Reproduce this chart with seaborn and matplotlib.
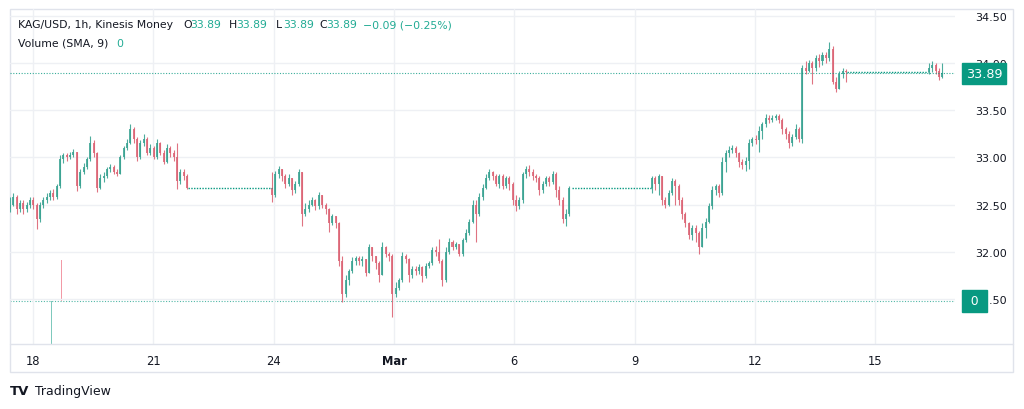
import numpy as np
import pandas as pd
import matplotlib.pyplot as plt
import seaborn as sns

# time unit: days after Feb 18 (00:00), candles are 2h apart inside each session
tick_days = [0, 3, 6, 9, 12, 15, 18, 21]
tick_labels = ["18", "21", "24", "Mar", "6", "9", "12", "15"]

# session A
a_start = -0.574
a_open = 32.45
a_close = [32.50, 32.58, 32.45, 32.52, 32.45, 32.50, 32.55, 32.50, 32.35, 32.50,
           32.55, 32.58, 32.62, 32.58, 32.70, 32.98, 33.02, 33.00, 33.03, 33.06,
           32.70, 32.85, 32.90, 32.98, 33.15, 33.05, 32.68, 32.78, 32.80, 32.88,
           32.90, 32.85, 32.82, 33.00, 33.10, 33.15, 33.30, 33.20, 33.00, 33.15,
           33.20, 33.05, 33.10, 33.00, 33.15, 33.05, 32.95, 33.10, 33.05, 33.00,
           32.75, 32.85, 32.80, 32.68]
a_high = [32.58, 32.62, 32.60, 32.55, 32.55, 32.53, 32.58, 32.58, 32.52, 32.53,
          32.58, 32.62, 32.65, 32.66, 32.72, 33.02, 33.05, 33.05, 33.06, 33.09,
          33.06, 32.88, 32.94, 33.00, 33.23, 33.18, 33.06, 32.82, 32.84, 32.90,
          32.93, 32.92, 32.88, 33.03, 33.12, 33.20, 33.35, 33.32, 33.22, 33.18,
          33.25, 33.22, 33.14, 33.12, 33.20, 33.16, 33.08, 33.14, 33.12, 33.08,
          33.15, 32.88, 32.88, 32.82]
a_low = [32.42, 32.48, 32.40, 32.42, 32.40, 32.42, 32.46, 32.45, 32.24, 32.32,
         32.46, 32.52, 32.55, 32.55, 32.56, 32.68, 32.94, 32.96, 32.98, 33.00,
         32.64, 32.68, 32.82, 32.88, 32.96, 33.00, 32.63, 32.66, 32.74, 32.78,
         32.85, 32.82, 32.80, 32.82, 32.98, 33.08, 33.14, 33.15, 32.96, 32.98,
         33.12, 33.02, 33.02, 32.98, 32.98, 33.02, 32.93, 32.94, 33.00, 32.96,
         32.67, 32.72, 32.76, 32.67]

# session B
b_start = 5.96
b_open = 32.68
b_close = [32.60, 32.82, 32.88, 32.80, 32.72, 32.78, 32.65, 32.72, 32.85, 32.40,
           32.45, 32.50, 32.55, 32.48, 32.60, 32.50, 32.45, 32.30, 32.38, 32.30,
           31.90, 31.55, 31.70, 31.80, 31.90, 31.93, 31.90, 31.92, 31.78, 32.05,
           31.95, 31.88, 31.75, 32.05, 31.98, 31.95, 31.55, 31.62, 31.70, 31.95,
           31.92, 31.75, 31.82, 31.80, 31.84, 31.74, 31.85, 31.88, 32.02, 32.00,
           31.90, 31.70, 32.00, 32.10, 32.05, 32.08, 31.98, 32.12, 32.20, 32.32,
           32.50, 32.40, 32.58, 32.68, 32.78, 32.85, 32.80, 32.72, 32.80, 32.70,
           32.78, 32.72, 32.55, 32.48, 32.55, 32.82, 32.88, 32.85, 32.80, 32.78,
           32.65, 32.72, 32.78, 32.74, 32.82, 32.65, 32.55, 32.35, 32.40, 32.68]
b_high = [32.85, 32.86, 32.91, 32.88, 32.82, 32.82, 32.78, 32.75, 32.88, 32.85,
          32.52, 32.55, 32.58, 32.56, 32.63, 32.60, 32.52, 32.46, 32.40, 32.38,
          32.32, 31.95, 31.75, 31.82, 31.94, 31.96, 31.95, 31.95, 31.92, 32.08,
          32.05, 31.96, 31.90, 32.10, 32.06, 32.00, 31.98, 31.68, 31.72, 32.00,
          31.98, 31.93, 31.85, 31.85, 31.87, 31.85, 31.88, 31.90, 32.05, 32.06,
          32.14, 31.92, 32.05, 32.15, 32.12, 32.10, 32.08, 32.15, 32.24, 32.35,
          32.55, 32.55, 32.62, 32.72, 32.82, 32.88, 32.86, 32.82, 32.82, 32.82,
          32.80, 32.80, 32.74, 32.60, 32.58, 32.85, 32.91, 32.92, 32.88, 32.82,
          32.80, 32.75, 32.80, 32.80, 32.86, 32.84, 32.70, 32.58, 32.45, 32.70]
b_low = [32.53, 32.58, 32.78, 32.75, 32.68, 32.70, 32.60, 32.62, 32.70, 32.27,
         32.38, 32.42, 32.48, 32.44, 32.45, 32.46, 32.40, 32.21, 32.28, 32.25,
         31.85, 31.47, 31.52, 31.65, 31.78, 31.86, 31.86, 31.85, 31.74, 31.78,
         31.90, 31.82, 31.68, 31.75, 31.94, 31.90, 31.31, 31.52, 31.60, 31.68,
         31.88, 31.68, 31.72, 31.75, 31.76, 31.68, 31.72, 31.83, 31.86, 31.96,
         31.88, 31.64, 31.68, 31.98, 32.02, 32.03, 31.95, 31.96, 32.10, 32.18,
         32.30, 32.10, 32.38, 32.55, 32.66, 32.76, 32.76, 32.70, 32.68, 32.66,
         32.68, 32.65, 32.50, 32.43, 32.45, 32.52, 32.78, 32.80, 32.76, 32.74,
         32.60, 32.62, 32.70, 32.70, 32.72, 32.58, 32.50, 32.30, 32.27, 32.38]

# session C
c_start = 15.436
c_open = 32.68
c_close = [32.78, 32.72, 32.80, 32.55, 32.50, 32.62, 32.75, 32.70, 32.55, 32.40,
           32.30, 32.18, 32.25, 32.20, 32.05, 32.25, 32.32, 32.48, 32.65, 32.70,
           32.62, 32.95, 33.05, 33.08, 33.10, 33.05, 32.95, 32.92, 32.96, 33.15,
           33.20, 33.18, 33.28, 33.35, 33.42, 33.40, 33.42, 33.44, 33.40, 33.30,
           33.25, 33.15, 33.22, 33.30, 33.20, 33.95, 33.92, 34.00, 33.95, 34.05,
           34.02, 34.08, 34.05, 34.15, 33.80, 33.72, 33.88, 33.92, 33.90]
c_high = [32.80, 32.80, 32.82, 32.80, 32.58, 32.65, 32.78, 32.77, 32.72, 32.58,
          32.42, 32.32, 32.28, 32.28, 32.22, 32.30, 32.36, 32.52, 32.70, 32.72,
          32.72, 33.00, 33.08, 33.12, 33.13, 33.12, 33.06, 32.98, 33.00, 33.20,
          33.22, 33.24, 33.33, 33.38, 33.46, 33.45, 33.45, 33.46, 33.46, 33.42,
          33.32, 33.28, 33.25, 33.35, 33.32, 33.98, 34.02, 34.03, 34.02, 34.08,
          34.10, 34.12, 34.12, 34.22, 34.18, 33.85, 33.92, 33.95, 33.94]
c_low = [32.62, 32.65, 32.60, 32.50, 32.46, 32.48, 32.60, 32.50, 32.50, 32.35,
         32.26, 32.14, 32.12, 32.10, 31.98, 32.05, 32.15, 32.30, 32.45, 32.60,
         32.58, 32.60, 32.85, 33.00, 33.05, 33.00, 32.90, 32.88, 32.86, 32.88,
         33.12, 33.14, 33.06, 33.20, 33.32, 33.36, 33.38, 33.40, 33.36, 33.25,
         33.20, 33.10, 33.12, 33.20, 33.16, 33.15, 33.88, 33.90, 33.78, 33.92,
         33.96, 33.98, 34.00, 34.02, 33.78, 33.69, 33.72, 33.84, 33.80]

# session D
d_start = 22.34
d_open = 33.90
d_close = [33.95, 33.98, 33.92, 33.85, 33.89]
d_high = [34.00, 34.02, 34.00, 33.95, 34.00]
d_low = [33.88, 33.90, 33.88, 33.82, 33.84]

# flat (no trade) stretches: start, end, level
flat_start = [3.865, 13.44, 20.30]
flat_end = [5.96, 15.44, 22.32]
flat_level = [32.68, 32.68, 33.90]

last_price = 33.89

# volume pane
vol_day = [0.47, 0.72]
vol_bottom = [0.0, 1.0]
vol_top = [1.0, 1.93]
vol_sma = 1.0

UP = "#089981"
CANDLE_UP = "#3aa392"
CANDLE_DOWN = "#dc6475"
TXT = "#131722"
GRID = "#eef0f4"
TEAL = "#22ab94"

sessions = [
    (a_start, a_open, a_close, a_high, a_low),
    (b_start, b_open, b_close, b_high, b_low),
    (c_start, c_open, c_close, c_high, c_low),
    (d_start, d_open, d_close, d_high, d_low),
]
frames = []
for start, first_open, close, high, low in sessions:
    n = len(close)
    frames.append(pd.DataFrame({
        "t": start + np.arange(n) / 12,
        "open": [first_open] + close[:-1],
        "high": high,
        "low": low,
        "close": close,
    }))
df = pd.concat(frames, ignore_index=True)
df["up"] = df["close"] >= df["open"]
df["color"] = np.where(df["up"], CANDLE_UP, CANDLE_DOWN)

sns.set_theme(style="white")
plt.rcParams["font.family"] = ["DejaVu Sans"]

W, H = 1024, 410
fig = plt.figure(figsize=(W / 100, H / 100), dpi=100)

# plot area 10..955 px wide, 10..345 px tall
ax = fig.add_axes([10 / W, 1 - 345 / H, 945 / W, 335 / H])

# volume overlay
vax = ax.twinx()
vax.set_ylim(0, 7.74)
vax.bar(vol_day, np.array(vol_top) - np.array(vol_bottom), bottom=vol_bottom,
        width=0.02, color=["#7fc9bd", "#f29aa6"], linewidth=0)
vax.axhline(vol_sma, color=UP, ls=(0, (1, 1.5)), lw=0.8, alpha=0.7)
vax.set_yticks([])
for s in vax.spines.values():
    s.set_visible(False)

ax.set_zorder(vax.get_zorder() + 1)
ax.patch.set_visible(False)

ax.vlines(df["t"], df["low"], df["high"], colors=df["color"], lw=0.8, alpha=0.9)
body = (df["close"] - df["open"]).abs().clip(lower=0.012)
ax.bar(df["t"], body, bottom=df[["open", "close"]].min(axis=1),
       width=0.05, color=df["color"], linewidth=0, alpha=0.85)

for s, e, lvl in zip(flat_start, flat_end, flat_level):
    sns.lineplot(x=[s, e], y=[lvl, lvl], ax=ax, color=UP, lw=1,
                 linestyle=(0, (1, 1)), legend=False)

ax.axhline(last_price, color=UP, ls=(0, (1, 1.5)), lw=0.8, alpha=0.8)

ax.set_xlim(-0.574, 22.99)
ax.set_ylim(31.023, 34.572)
ax.set_xticks(tick_days)
ax.set_xticklabels(tick_labels)
for lab in ax.get_xticklabels():
    if lab.get_text() == "Mar":
        lab.set_fontweight("bold")
ax.set_yticks([31.5, 32.0, 32.5, 33.0, 33.5, 34.0, 34.5])
ax.set_yticklabels(["31.50", "32.00", "32.50", "33.00", "33.50", "34.00", "34.50"])
ax.yaxis.tick_right()
ax.tick_params(axis="y", length=0, pad=14.5, labelsize=8.0, labelcolor=TXT)
ax.tick_params(axis="x", length=0, pad=7, labelsize=8.3, labelcolor=TXT)
ax.grid(True, color=GRID, lw=1)
ax.set_axisbelow(True)
for s in ax.spines.values():
    s.set_visible(False)
ax.set_xlabel("")
ax.set_ylabel("")

# price tags on the scale (they cover part of the scale text, as in TradingView)
ax.annotate(f"{last_price:.2f}", xy=(1.0118, last_price),
            xycoords=("axes fraction", "data"), ha="left", va="center",
            fontsize=9.2, color="white", annotation_clip=False,
            bbox=dict(boxstyle="square,pad=0.3", fc=UP, ec=UP))
ax.annotate(" 0 ", xy=(1.0123, vol_sma), xycoords=("axes fraction", vax.transData),
            ha="left", va="center", fontsize=8.8, color="white",
            annotation_clip=False,
            bbox=dict(boxstyle="square,pad=0.36", fc=UP, ec=UP))

# outer frame and time-scale divider
fig.add_artist(plt.Rectangle((10 / W, 1 - 373 / H), 1003 / W, 363 / H,
                             transform=fig.transFigure, fill=False,
                             ec="#e0e3eb", lw=1))
fig.add_artist(plt.Line2D([10 / W, 1013 / W], [1 - 345 / H, 1 - 345 / H],
                          transform=fig.transFigure, color="#e0e3eb", lw=1))

# legend header
hy1 = 1 - 25 / H
hy2 = 1 - 44 / H
hs = 7.8
fig.text(18 / W, hy1, "KAG/USD, 1h, Kinesis Money", fontsize=hs, color=TXT, va="center")
for letter, lx in [("O", 183), ("H", 229), ("L", 276), ("C", 319)]:
    fig.text(lx / W, hy1, letter, fontsize=hs, color=TXT, va="center")
    fig.text((lx + 7) / W, hy1, "33.89", fontsize=hs, color=TEAL, va="center")
fig.text(363 / W, hy1, "\u22120.09 (\u22120.25%)", fontsize=hs, color=TEAL, va="center")
fig.text(18 / W, hy2, "Volume (SMA, 9)", fontsize=hs, color=TXT, va="center")
fig.text(116 / W, hy2, "0", fontsize=hs, color=TEAL, va="center")

# footer
fig.text(10 / W, 1 - 392 / H, "TV", fontsize=9.5, fontweight="heavy", color=TXT, va="center")
fig.text(35 / W, 1 - 392 / H, "TradingView", fontsize=9, color=TXT, va="center")

fig.savefig("out.png", dpi=100)
